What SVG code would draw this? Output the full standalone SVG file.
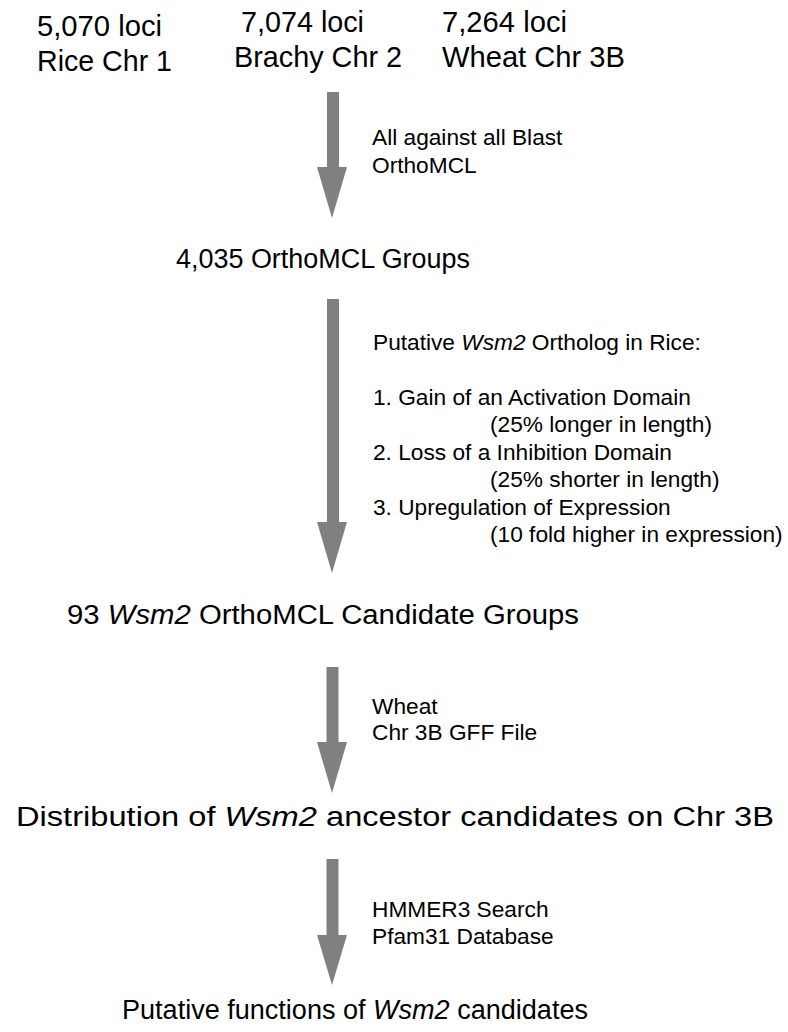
<svg xmlns="http://www.w3.org/2000/svg" width="788" height="1032" viewBox="0 0 788 1032">
<style>
text{font-family:"Liberation Sans",Arial,sans-serif;fill:#000}
.top{font-size:29px}
.title{font-size:27px}
.lab{font-size:22.7px}
.it{font-style:italic}
.arrow{fill:#808080}
</style>
<rect width="788" height="1032" fill="#fff"/>
<g id="connectors">
<path class="arrow" d="M327,92 H339 V167 H347 L332,218 L317,167 H327 Z"/>
<path class="arrow" d="M327,299 H339 V522 H347 L332,573 L317,522 H327 Z"/>
<path class="arrow" d="M326.5,667 H338.5 V742 H347 L332,793 L317,742 H326.5 Z"/>
<path class="arrow" d="M326.5,859 H338.5 V935 H347 L332,985 L317,935 H326.5 Z"/>
</g>
<g id="rice">
<text class="top" x="37" y="36" textLength="125" lengthAdjust="spacingAndGlyphs">5,070 loci</text>
<text class="top" x="37" y="71" textLength="135" lengthAdjust="spacingAndGlyphs">Rice Chr 1</text>
</g>
<g id="brachy">
<text class="top" x="241" y="32" textLength="123" lengthAdjust="spacingAndGlyphs">7,074 loci</text>
<text class="top" x="234" y="67" textLength="168" lengthAdjust="spacingAndGlyphs">Brachy Chr 2</text>
</g>
<g id="wheat">
<text class="top" x="442" y="32" textLength="125" lengthAdjust="spacingAndGlyphs">7,264 loci</text>
<text class="top" x="442" y="67" textLength="183" lengthAdjust="spacingAndGlyphs">Wheat Chr 3B</text>
</g>
<g id="label1">
<text class="lab" x="372" y="145">All against all Blast</text>
<text class="lab" x="372" y="173">OrthoMCL</text>
</g>
<g id="groups">
<text class="title" x="176" y="268" textLength="294" lengthAdjust="spacingAndGlyphs">4,035 OrthoMCL Groups</text>
</g>
<g id="label2">
<text class="lab" x="373" y="350">Putative <tspan class="it">Wsm2</tspan> Ortholog in Rice:</text>
<text class="lab" x="373" y="405">1. Gain of an Activation Domain</text>
<text class="lab" x="490" y="432">(25% longer in length)</text>
<text class="lab" x="373" y="460">2. Loss of a Inhibition Domain</text>
<text class="lab" x="490" y="487">(25% shorter in length)</text>
<text class="lab" x="373" y="515">3. Upregulation of Expression</text>
<text class="lab" x="490" y="542">(10 fold higher in expression)</text>
</g>
<g id="candidates">
<text class="title" x="67" y="624" textLength="512" lengthAdjust="spacingAndGlyphs">93 <tspan class="it">Wsm2</tspan> OrthoMCL Candidate Groups</text>
</g>
<g id="label3">
<text class="lab" x="372" y="714">Wheat</text>
<text class="lab" x="372" y="740">Chr 3B GFF File</text>
</g>
<g id="distribution">
<text class="title" x="16" y="826" textLength="758" lengthAdjust="spacingAndGlyphs">Distribution of <tspan class="it">Wsm2</tspan> ancestor candidates on Chr 3B</text>
</g>
<g id="label4">
<text class="lab" x="372" y="917">HMMER3 Search</text>
<text class="lab" x="372" y="944">Pfam31 Database</text>
</g>
<g id="functions">
<text class="title" x="122" y="1019" textLength="466" lengthAdjust="spacingAndGlyphs">Putative functions of <tspan class="it">Wsm2</tspan> candidates</text>
</g>
</svg>
